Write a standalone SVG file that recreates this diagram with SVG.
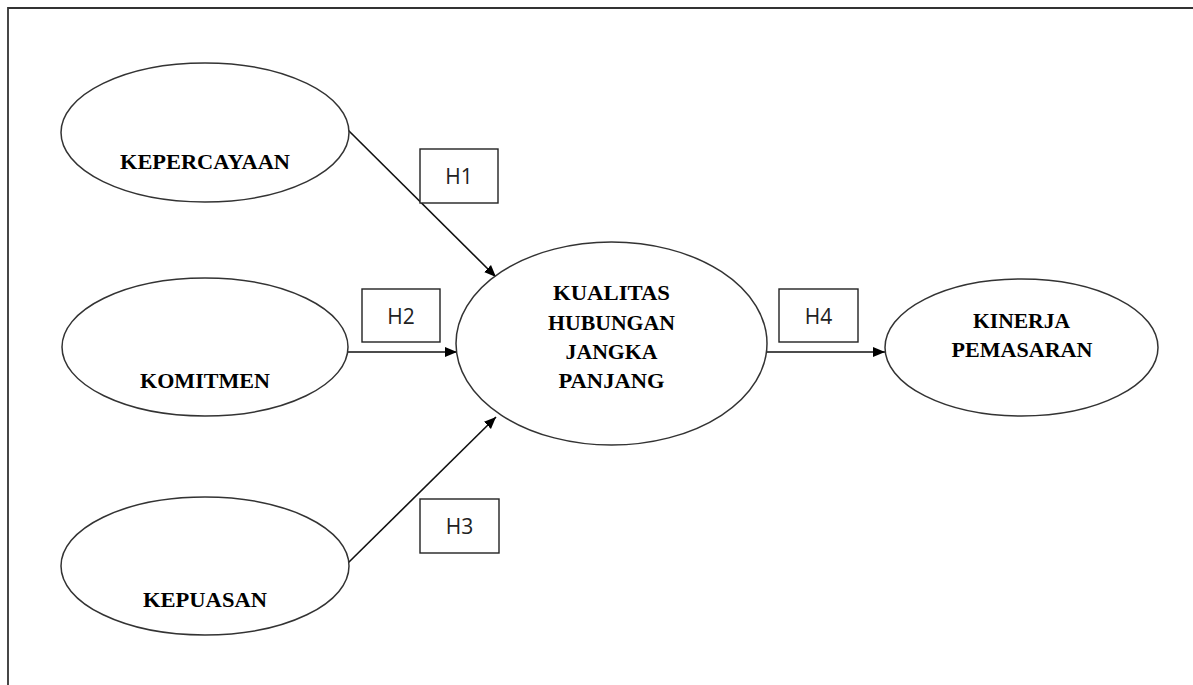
<svg xmlns="http://www.w3.org/2000/svg" width="1193" height="685" viewBox="0 0 1193 685">
<defs>
<marker id="arr" markerUnits="userSpaceOnUse" markerWidth="13" markerHeight="11" refX="12" refY="5" orient="auto">
<path d="M0,0 L12,5 L0,10 z" fill="#000"/>
</marker>
<style>
.frame{fill:none;stroke:#333;stroke-width:1.8}
.ell{fill:#fff;stroke:#333;stroke-width:1.5}
.lbl{font-family:"Liberation Serif","Times New Roman",serif;font-weight:bold;font-size:22px;fill:#000;text-anchor:middle}
.hbox{fill:#fff;stroke:#222;stroke-width:1.4}
.htxt{font-family:"Open Sans","Noto Sans",sans-serif;font-size:21px;fill:#222;text-anchor:middle}
.conn{stroke:#111;stroke-width:1.6;fill:none;marker-end:url(#arr)}
</style>
</defs>
<rect width="1193" height="685" fill="#fff"/>
<path class="frame" d="M8,685 L8,8 L1193,8"/>
<g id="connectors">
<line class="conn" x1="347" y1="129" x2="496" y2="277"/>
<line class="conn" x1="348" y1="352" x2="457" y2="352"/>
<line class="conn" x1="348" y1="563" x2="496" y2="417"/>
<line class="conn" x1="767" y1="352" x2="885" y2="352"/>
</g>
<g id="node-kepercayaan">
<ellipse class="ell" cx="205" cy="132.5" rx="144" ry="69.5"/>
<text class="lbl" x="205" y="169" textLength="170" lengthAdjust="spacingAndGlyphs">KEPERCAYAAN</text>
</g>
<g id="node-komitmen">
<ellipse class="ell" cx="205" cy="347" rx="143" ry="69"/>
<text class="lbl" x="205" y="388" textLength="130" lengthAdjust="spacingAndGlyphs">KOMITMEN</text>
</g>
<g id="node-kepuasan">
<ellipse class="ell" cx="205" cy="566" rx="144" ry="69"/>
<text class="lbl" x="205" y="607" textLength="124" lengthAdjust="spacingAndGlyphs">KEPUASAN</text>
</g>
<g id="node-kualitas">
<ellipse class="ell" cx="611.5" cy="343.5" rx="155.5" ry="101.5"/>
<text class="lbl" x="611.5" y="300" textLength="117" lengthAdjust="spacingAndGlyphs">KUALITAS</text>
<text class="lbl" x="611.5" y="330" textLength="127" lengthAdjust="spacingAndGlyphs">HUBUNGAN</text>
<text class="lbl" x="611.5" y="359" textLength="92" lengthAdjust="spacingAndGlyphs">JANGKA</text>
<text class="lbl" x="611.5" y="388" textLength="106" lengthAdjust="spacingAndGlyphs">PANJANG</text>
</g>
<g id="node-kinerja">
<ellipse class="ell" cx="1021.5" cy="347.5" rx="136.5" ry="68.5"/>
<text class="lbl" x="1021.5" y="328" textLength="97" lengthAdjust="spacingAndGlyphs">KINERJA</text>
<text class="lbl" x="1022" y="357" textLength="141" lengthAdjust="spacingAndGlyphs">PEMASARAN</text>
</g>
<g id="label-h1">
<rect class="hbox" x="420" y="149" width="78" height="54"/>
<text class="htxt" x="459" y="184">H1</text>
</g>
<g id="label-h2">
<rect class="hbox" x="362" y="289" width="78" height="53"/>
<text class="htxt" x="401" y="323.5">H2</text>
</g>
<g id="label-h3">
<rect class="hbox" x="420" y="499" width="79" height="54"/>
<text class="htxt" x="459.5" y="534">H3</text>
</g>
<g id="label-h4">
<rect class="hbox" x="779" y="289" width="79" height="53"/>
<text class="htxt" x="818.5" y="323.5">H4</text>
</g>
</svg>
